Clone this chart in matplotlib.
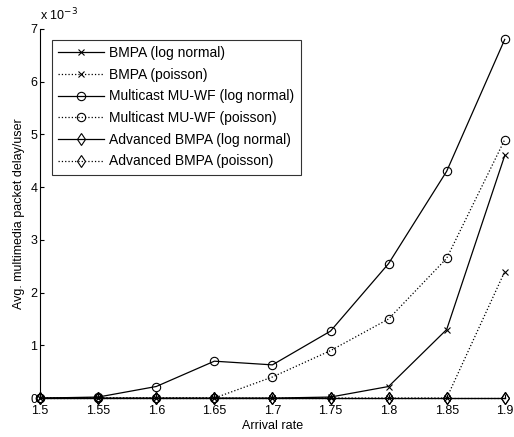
import matplotlib
matplotlib.use("Agg")
import matplotlib.pyplot as plt

plt.rcParams['font.family'] = ['Liberation Sans', 'DejaVu Sans']

arrival = [1.5, 1.55, 1.6, 1.65, 1.7, 1.75, 1.8, 1.85, 1.9]
bmpa_ln = [0, 0, 0, 0, 0, 0.02, 0.22, 1.3, 4.6]
bmpa_po = [0, 0, 0, 0, 0, 0, 0, 0, 2.4]
mu_ln = [0, 0.02, 0.22, 0.7, 0.63, 1.27, 2.55, 4.3, 6.8]
mu_po = [0, 0, 0, 0, 0.4, 0.9, 1.5, 2.65, 4.9]
adv_ln = [0, 0, 0, 0, 0, 0, 0, 0, 0]
adv_po = [0, 0, 0, 0, 0, 0, 0, 0, 0]
labels = ['BMPA (log normal)', 'BMPA (poisson)', 'Multicast MU-WF (log normal)',
          'Multicast MU-WF (poisson)', 'Advanced BMPA (log normal)', 'Advanced BMPA (poisson)']

fig = plt.figure(figsize=(5.14, 4.37), dpi=100)
ax = fig.add_axes([0.078, 0.089, 0.904, 0.845])

kw = dict(color='black', lw=0.9, mfc='none', mec='black', mew=0.8, clip_on=False)
ax.plot(arrival, bmpa_ln, '-', marker='x', ms=4, label=labels[0], **kw)
ax.plot(arrival, bmpa_po, ':', marker='x', ms=4, label=labels[1], **kw)
ax.plot(arrival, mu_ln, '-', marker='o', ms=6, label=labels[2], **kw)
ax.plot(arrival, mu_po, ':', marker='o', ms=6, label=labels[3], **kw)
ax.plot(arrival, adv_ln, '-', marker='d', ms=6, label=labels[4], **kw)
ax.plot(arrival, adv_po, ':', marker='d', ms=6, label=labels[5], **kw)

ax.set_xlim(1.5, 1.9)
ax.set_ylim(0, 7)
ax.set_xticks(arrival)
ax.set_xticklabels(['1.5', '1.55', '1.6', '1.65', '1.7', '1.75', '1.8', '1.85', '1.9'])
ax.set_yticks(range(8))
ax.tick_params(direction='in', labelsize=9, length=3)
ax.tick_params(axis='x', pad=5)
ax.tick_params(axis='y', pad=2)
ax.spines['top'].set_visible(False)
ax.spines['right'].set_visible(False)
ax.set_xlabel('Arrival rate', fontsize=9, labelpad=2)
ax.set_ylabel('Avg. multimedia packet delay/user', fontsize=9, labelpad=4)
ax.text(0.0, 1.015, r'x 10$^{-3}$', transform=ax.transAxes, fontsize=9, ha='left', va='bottom')

leg = ax.legend(loc='upper left', bbox_to_anchor=(0.025, 0.97), fontsize=10, frameon=True,
                fancybox=False, edgecolor='black', handlelength=3.3, borderpad=0.45,
                labelspacing=0.55, handletextpad=0.4, borderaxespad=0)
leg.get_frame().set_linewidth(0.8)

fig.savefig('out.png', dpi=100)
